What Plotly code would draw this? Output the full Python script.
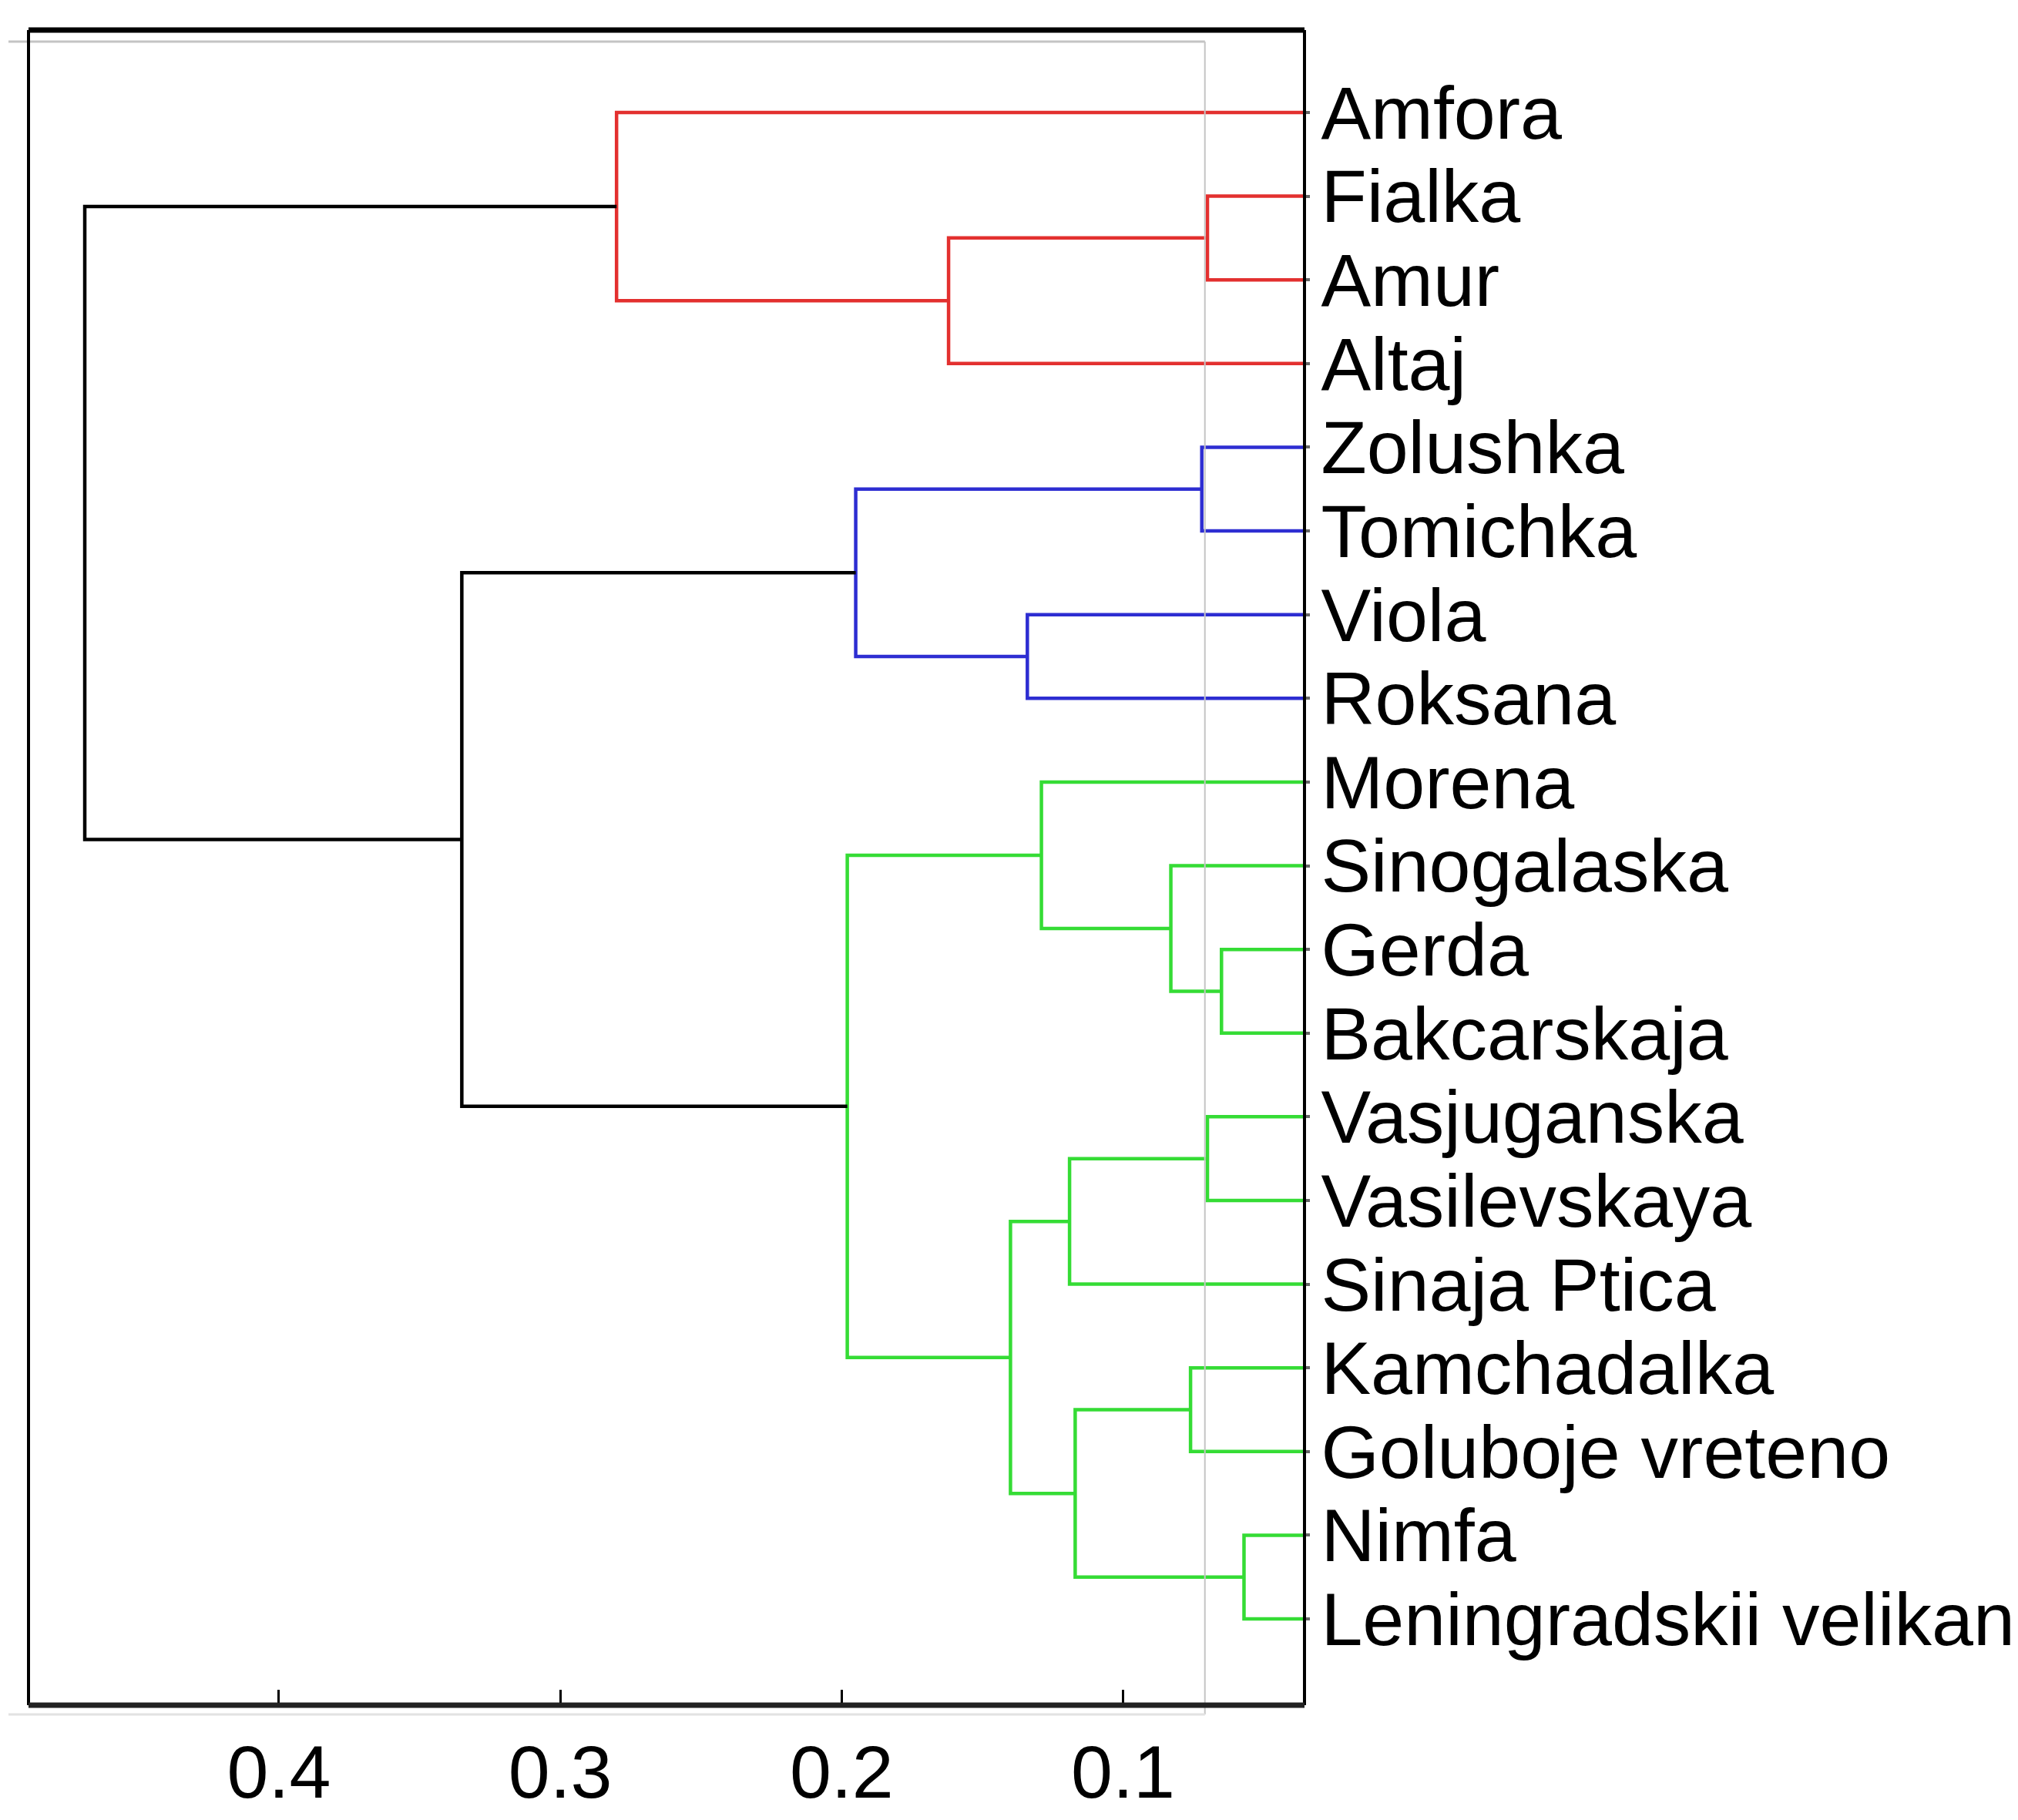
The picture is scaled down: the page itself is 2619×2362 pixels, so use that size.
# dendrogram of cultivars, drawn with plain scatter lines
import plotly.graph_objects as go

# leaf order from top to bottom
leaves = ['Amfora', 'Fialka', 'Amur', 'Altaj', 'Zolushka', 'Tomichka', 'Viola',
          'Roksana', 'Morena', 'Sinogalaska', 'Gerda', 'Bakcarskaja', 'Vasjuganska',
          'Vasilevskaya', 'Sinaja Ptica', 'Kamchadalka', 'Goluboje vreteno', 'Nimfa',
          'Leningradskii velikan']

# merges: node name, left child, right child, height (distance), cluster
merge_names = ['FA', 'FAA', 'RED', 'ZT', 'VR', 'BLUE', 'GB', 'SGB', 'MSGB',
               'VV', 'VVS', 'KG', 'NL', 'KGNL', 'VVSKGNL', 'GREEN', 'BG', 'ROOT']
merge_left = ['Fialka', 'FA', 'Amfora', 'Zolushka', 'Viola', 'ZT', 'Gerda', 'Sinogalaska', 'Morena',
              'Vasjuganska', 'VV', 'Kamchadalka', 'Nimfa', 'KG', 'VVS', 'MSGB', 'BLUE', 'RED']
merge_right = ['Amur', 'Altaj', 'FAA', 'Tomichka', 'Roksana', 'VR', 'Bakcarskaja', 'GB', 'SGB',
               'Vasilevskaya', 'Sinaja Ptica', 'Goluboje vreteno', 'Leningradskii velikan', 'NL',
               'KGNL', 'VVSKGNL', 'GREEN', 'BG']
merge_height = [0.070, 0.162, 0.280, 0.072, 0.134, 0.195, 0.065, 0.083, 0.129,
                0.070, 0.119, 0.076, 0.057, 0.117, 0.140, 0.198, 0.335, 0.469]
merge_group = ['red', 'red', 'red', 'blue', 'blue', 'blue', 'green', 'green', 'green',
               'green', 'green', 'green', 'green', 'green', 'green', 'green', 'top', 'top']

colors = {'red': '#e3302f', 'blue': '#2e2ed2', 'green': '#35dc35', 'top': '#000000'}

# position of every node: leaves at 1..n, merges at the mean of their children
pos_y = {name: i + 1 for i, name in enumerate(leaves)}
pos_x = {name: 0.0 for name in leaves}
for name, a, b, h in zip(merge_names, merge_left, merge_right, merge_height):
    pos_y[name] = (pos_y[a] + pos_y[b]) / 2
    pos_x[name] = h

fig = go.Figure()

# one trace per colour, U shapes split by None
for grp, col in colors.items():
    xs, ys = [], []
    for name, a, b, g in zip(merge_names, merge_left, merge_right, merge_group):
        if g != grp:
            continue
        xs += [pos_x[a], pos_x[name], pos_x[name], pos_x[b], None]
        ys += [pos_y[a], pos_y[a], pos_y[b], pos_y[b], None]
    fig.add_trace(go.Scatter(x=xs, y=ys, mode='lines', line=dict(color=col, width=4.5),
                             hoverinfo='skip', showlegend=False))

# thin grey offset frame seen behind the plot
fig.add_shape(type='line', xref='x', yref='paper', x0=0.0709, x1=0.0709, y0=-0.0055, y1=0.9931,
              line=dict(color='#c4c4c4', width=2))
fig.add_shape(type='line', xref='paper', yref='paper', x0=-0.0157, x1=0.922, y0=0.9931, y1=0.9931,
              line=dict(color='#c4c4c4', width=3))
fig.add_shape(type='line', xref='paper', yref='paper', x0=-0.0157, x1=0.922, y0=-0.0055, y1=-0.0055,
              line=dict(color='#e2e2e2', width=3))

# black frame, top and bottom thicker
fig.add_shape(type='line', xref='paper', yref='paper', x0=0, x1=0, y0=0, y1=1,
              line=dict(color='black', width=4))
fig.add_shape(type='line', xref='paper', yref='paper', x0=1, x1=1, y0=0, y1=1,
              line=dict(color='black', width=4))
fig.add_shape(type='line', xref='paper', yref='paper', x0=0, x1=1, y0=1, y1=1,
              line=dict(color='black', width=7))
fig.add_shape(type='line', xref='paper', yref='paper', x0=0, x1=1, y0=0, y1=0,
              line=dict(color='#222222', width=7))

# margins shifted by 8px to make up for the page body margin
fig.update_layout(
    width=2619, height=2362,
    margin=dict(l=29, r=922, t=31, b=157),
    plot_bgcolor='white', paper_bgcolor='white',
    font=dict(family='Liberation Sans, Arial, sans-serif', size=97, color='black'),
    xaxis=dict(range=[0.489, 0.0355], tickvals=[0.4, 0.3, 0.2, 0.1],
               ticktext=['0.4', '0.3', '0.2', '0.1'],
               ticks='inside', ticklen=20, tickwidth=3, tickcolor='black',
               showgrid=False, zeroline=False, showline=False,
               ticklabelstandoff=22),
    yaxis=dict(range=[20.03, 0.016], side='right', tickvals=list(range(1, len(leaves) + 1)),
               ticktext=leaves, ticks='outside', ticklen=6, tickwidth=4, tickcolor='#666666',
               showgrid=False, zeroline=False, showline=False,
               ticklabelstandoff=-5),
)

fig.write_html("out.html")
